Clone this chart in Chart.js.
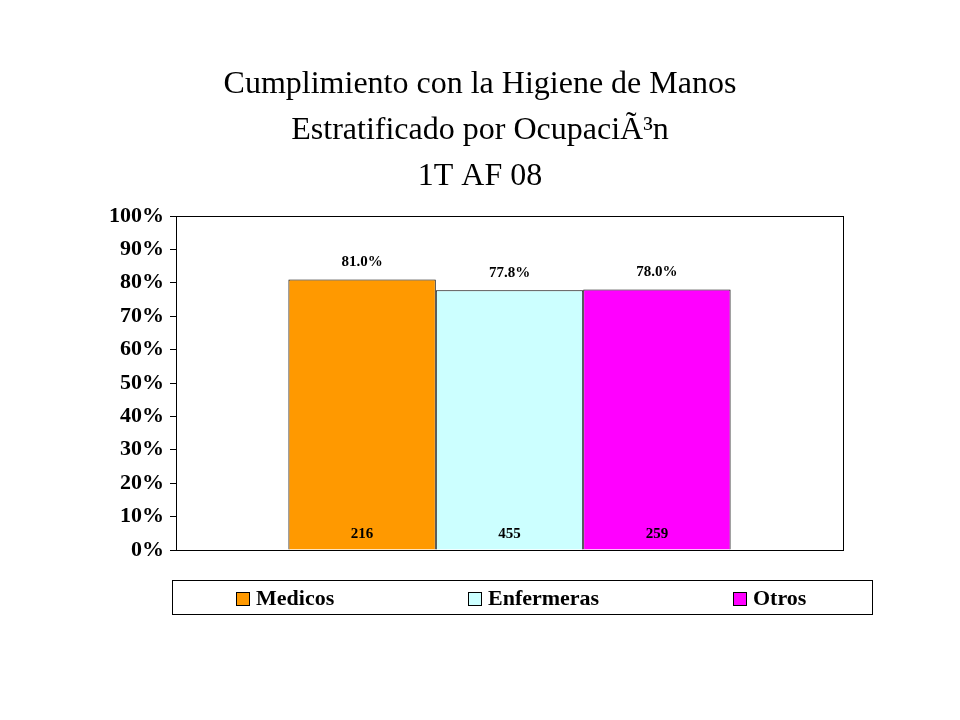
<!DOCTYPE html><html><head><script src="https://cdn.jsdelivr.net/npm/chart.js@4"></script>
<style>body{margin:0;background:#fff}canvas{display:block}</style></head><body>
<div style="width:960px;height:720px"><canvas id="c"></canvas></div>
<script>
const titleLines=["Cumplimiento con la Higiene de Manos","Estratificado por Ocupación","1T AF 08"];
const categories=["1T AF 08"];
const seriesNames=["Medicos","Enfermeras","Otros"];
const seriesValues=[81.0,77.8,78.0];
const seriesCounts=["216","455","259"];
const seriesColors=["#FF9900","#CCFFFF","#FF00FF"];
const yTicks=[0,10,20,30,40,50,60,70,80,90,100];
const deco={id:'deco',afterDraw(ch){
 const c=ch.ctx,a=ch.chartArea;
 c.save();c.fillStyle='#000';c.textAlign='center';c.textBaseline='alphabetic';
 c.font='32px "Liberation Serif"';
 titleLines.forEach((t,i)=>c.fillText(t,480,93+i*46));
 c.strokeStyle='#000';c.lineWidth=1;
 c.strokeRect(a.left+0.5,a.top+0.5,a.right-a.left,a.bottom-a.top);
 c.font='bold 15px "Liberation Serif"';
 ch.data.datasets.forEach((d,i)=>{const b=ch.getDatasetMeta(i).data[0];
  c.fillText(d.data[0].toFixed(1)+'%',b.x,b.y-13);
  c.fillText(seriesCounts[i],b.x,a.bottom-12);});
 // legend
 c.strokeRect(172.5,580.5,700,34);
 c.font='bold 22px "Liberation Serif"';c.textAlign='left';c.textBaseline='middle';
 const xs=[236,468,733];
 seriesNames.forEach((n,i)=>{c.fillStyle=seriesColors[i];c.fillRect(xs[i],592,13,13);c.strokeRect(xs[i]+0.5,592.5,13,13);
  c.fillStyle='#000';c.fillText(n,xs[i]+20,599);});
 c.restore();}};
new Chart(document.getElementById('c'),{type:'bar',
 data:{labels:categories,datasets:seriesNames.map((n,i)=>({label:n,data:[seriesValues[i]],backgroundColor:seriesColors[i],borderColor:'#000',borderWidth:1}))},
 options:{responsive:true,maintainAspectRatio:false,animation:false,
  layout:{padding:{top:216,bottom:170,right:117,left:0}},
  plugins:{legend:{display:false},title:{display:false},tooltip:{enabled:false}},
  datasets:{bar:{categoryPercentage:0.663,barPercentage:1}},
  scales:{x:{display:false},
   y:{min:0,max:100,afterFit(s){s.width=176},afterBuildTicks(s){s.ticks=yTicks.map(v=>({value:v}))},
    grid:{drawOnChartArea:false,tickLength:6,color:'#000'},border:{color:'#000'},
    ticks:{color:'#000',padding:6,font:{family:'Liberation Serif',size:22,weight:'bold'},callback:v=>v+'%'}}}},
 plugins:[deco]});
</script></body></html>
